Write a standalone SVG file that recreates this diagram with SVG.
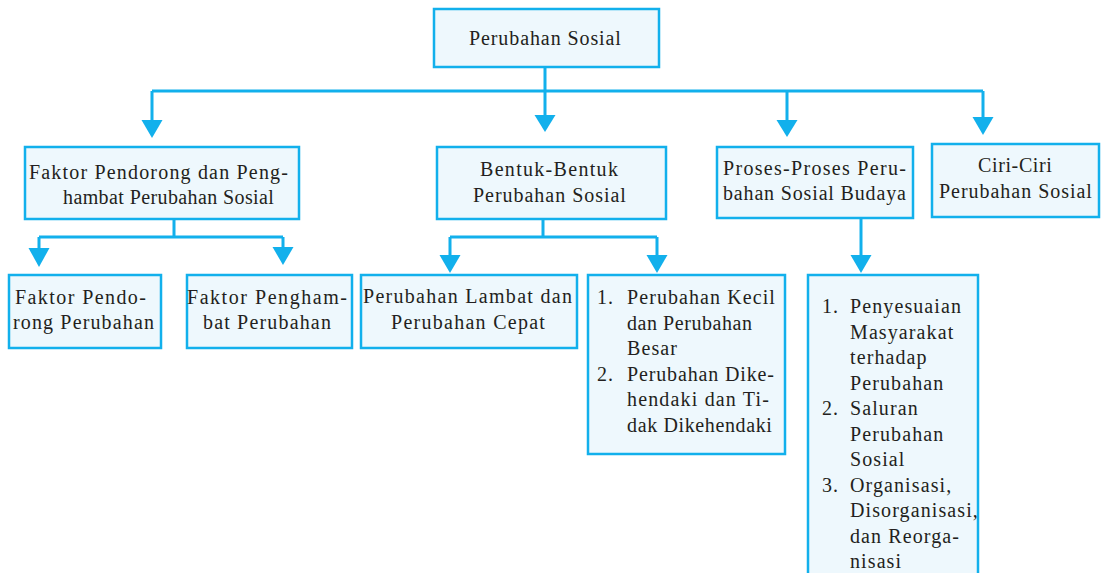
<svg xmlns="http://www.w3.org/2000/svg" width="1102" height="573" viewBox="0 0 1102 573">
<style>
.box{fill:#EEF8FD;stroke:#12B0EC;stroke-width:2.5}
.ln{fill:none;stroke:#12B0EC;stroke-width:3}
.ah{fill:#12B0EC}
text{font-family:'Liberation Serif','Times New Roman',serif;font-size:20px;fill:#231F20;letter-spacing:1.1px}
</style>
<rect width="1102" height="573" fill="#FFFFFF"/>
<g id="connectors">
<path class="ln" d="M545 67V117M152 91H983M152 91V121M787 91V121M983 91V119"/>
<polygon class="ah" points="141.5,120 162.5,120 152,138"/>
<polygon class="ah" points="534.5,115 555.5,115 545,132"/>
<polygon class="ah" points="776.5,120 797.5,120 787,137"/>
<polygon class="ah" points="972.5,117 993.5,117 983,135"/>
<path class="ln" d="M174 220V237M39 237H283M39 237V250M283 237V250"/>
<polygon class="ah" points="28.5,248 49.5,248 39,267"/>
<polygon class="ah" points="272.5,247 293.5,247 283,265"/>
<path class="ln" d="M543 220V237M450 237H657M450 237V257M657 237V257"/>
<polygon class="ah" points="439.5,255 460.5,255 450,273"/>
<polygon class="ah" points="646.5,255 667.5,255 657,273"/>
<path class="ln" d="M861 218V257"/>
<polygon class="ah" points="850.5,255 871.5,255 861,273"/>
</g>
<g id="n-root">
<rect class="box" x="434" y="9" width="225" height="58"/>
<text x="469" y="45" textLength="153">Perubahan Sosial</text>
</g>
<g id="n-faktor">
<rect class="box" x="25" y="147" width="274" height="72"/>
<text x="29" y="179" textLength="260">Faktor Pendorong dan Peng-</text>
<text x="63" y="204" textLength="212">hambat Perubahan Sosial</text>
</g>
<g id="n-bentuk">
<rect class="box" x="437" y="147" width="229" height="72"/>
<text x="480" y="176" textLength="139">Bentuk-Bentuk</text>
<text x="473" y="202" textLength="154">Perubahan Sosial</text>
</g>
<g id="n-proses">
<rect class="box" x="717" y="147" width="196" height="71"/>
<text x="723" y="175" textLength="184">Proses-Proses Peru-</text>
<text x="723" y="200" textLength="184">bahan Sosial Budaya</text>
</g>
<g id="n-ciri">
<rect class="box" x="932" y="144" width="167" height="73"/>
<text x="978" y="172" textLength="75">Ciri-Ciri</text>
<text x="939" y="198" textLength="154">Perubahan Sosial</text>
</g>
<g id="n-pendorong">
<rect class="box" x="9" y="275" width="152" height="73"/>
<text x="15" y="304" textLength="132">Faktor Pendo-</text>
<text x="13" y="329" textLength="142">rong Perubahan</text>
</g>
<g id="n-penghambat">
<rect class="box" x="187" y="275" width="165" height="73"/>
<text x="187" y="304" textLength="161">Faktor Pengham-</text>
<text x="203" y="329" textLength="129">bat Perubahan</text>
</g>
<g id="n-lambat">
<rect class="box" x="361" y="275" width="216" height="73"/>
<text x="363" y="303" textLength="210">Perubahan Lambat dan</text>
<text x="391" y="329" textLength="155">Perubahan Cepat</text>
</g>
<g id="n-kecil">
<rect class="box" x="588" y="275" width="197" height="179"/>
<text x="597" y="304">1.</text>
<text x="627" y="304" textLength="149">Perubahan Kecil</text>
<text x="627" y="329.5" textLength="126">dan Perubahan</text>
<text x="627" y="355">Besar</text>
<text x="597" y="380.5">2.</text>
<text x="627" y="380.5" textLength="148">Perubahan Dike-</text>
<text x="627" y="406" textLength="143">hendaki dan Ti-</text>
<text x="627" y="431.5" textLength="146">dak Dikehendaki</text>
</g>
<g id="n-penyesuaian">
<rect class="box" x="808" y="275" width="170" height="320"/>
<text x="822" y="313">1.</text>
<text x="850" y="313">Penyesuaian</text>
<text x="850" y="338.5">Masyarakat</text>
<text x="850" y="364">terhadap</text>
<text x="850" y="389.5">Perubahan</text>
<text x="822" y="415">2.</text>
<text x="850" y="415">Saluran</text>
<text x="850" y="440.5">Perubahan</text>
<text x="850" y="466">Sosial</text>
<text x="822" y="491.5">3.</text>
<text x="850" y="491.5">Organisasi,</text>
<text x="850" y="517">Disorganisasi,</text>
<text x="850" y="542.5">dan Reorga-</text>
<text x="850" y="568">nisasi</text>
</g>
</svg>
